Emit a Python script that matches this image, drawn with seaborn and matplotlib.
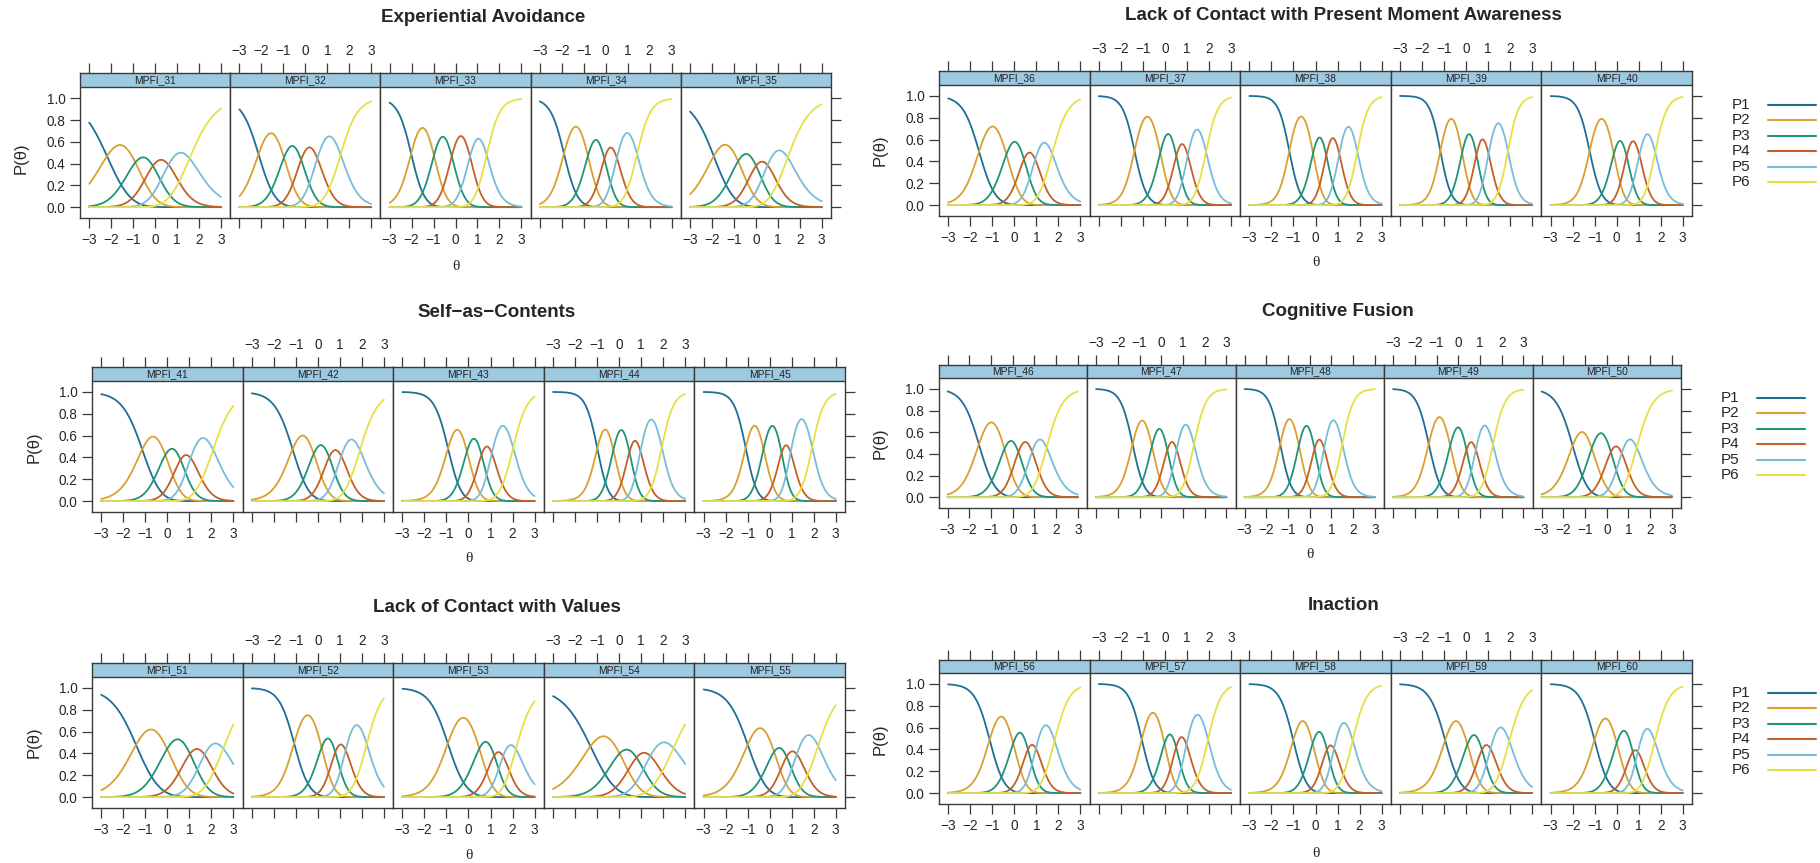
import numpy as np
import pandas as pd
import matplotlib
matplotlib.use("Agg")
import matplotlib.pyplot as plt
import seaborn as sns

# Generalized partial credit item parameters (slope a, step thresholds d1..d5)
item_ids = list(range(31, 61))
slopes = [1.59, 2.52, 3.25, 3.21, 1.85,
          2.66, 3.67, 3.99, 4.09, 3.69,
          2.09, 2.35, 3.13, 3.69, 3.70,
          2.57, 3.56, 3.83, 3.52, 2.55,
          1.71, 2.89, 2.36, 1.48, 2.12,
          2.91, 3.36, 3.12, 2.72, 2.92]
thresholds = [
    [-2.19, -0.90, -0.10, 0.61, 1.57],
    [-2.13, -0.97, -0.19, 0.55, 1.61],
    [-2.02, -0.98, -0.17, 0.66, 1.42],
    [-1.90, -0.81, -0.06, 0.51, 1.43],
    [-1.92, -0.81, 0.01, 0.53, 1.45],
    [-1.60, -0.36, 0.44, 0.95, 1.72],
    [-1.38, -0.21, 0.52, 1.04, 1.87],
    [-1.19, -0.11, 0.49, 1.08, 1.90],
    [-1.17, -0.18, 0.47, 1.02, 1.90],
    [-1.23, -0.13, 0.45, 1.03, 1.75],
    [-1.14, -0.09, 0.60, 1.06, 2.08],
    [-1.15, -0.19, 0.51, 1.06, 1.91],
    [-0.93, -0.07, 0.59, 1.06, 2.03],
    [-0.99, -0.26, 0.47, 0.97, 1.94],
    [-1.09, -0.28, 0.54, 0.95, 1.93],
    [-1.56, -0.38, 0.26, 0.89, 1.56],
    [-1.32, -0.43, 0.28, 0.71, 1.51],
    [-1.36, -0.50, 0.22, 0.66, 1.50],
    [-1.36, -0.37, 0.38, 0.81, 1.60],
    [-1.57, -0.69, 0.19, 0.69, 1.38],
    [-1.42, -0.01, 1.03, 1.69, 2.54],
    [-1.08, 0.17, 0.79, 1.26, 2.22],
    [-0.94, 0.49, 1.17, 1.57, 2.15],
    [-1.30, 0.02, 0.79, 1.42, 2.47],
    [-1.00, 0.20, 0.77, 1.23, 2.20],
    [-1.12, -0.05, 0.62, 0.98, 1.83],
    [-1.05, -0.02, 0.51, 0.98, 1.96],
    [-1.01, -0.13, 0.52, 0.84, 1.69],
    [-0.95, 0.06, 0.72, 1.11, 1.96],
    [-1.01, 0.00, 0.73, 0.96, 1.73],
]
scale_titles = ["Experiential Avoidance", "Self\u2212as\u2212Contents", "Lack of Contact with Values",
                "Lack of Contact with Present Moment Awareness", "Cognitive Fusion", "Inaction"]
scale_items = [[31, 32, 33, 34, 35], [41, 42, 43, 44, 45], [51, 52, 53, 54, 55],
               [36, 37, 38, 39, 40], [46, 47, 48, 49, 50], [56, 57, 58, 59, 60]]
categories = ["P1", "P2", "P3", "P4", "P5", "P6"]
x_ticks = [-3, -2, -1, 0, 1, 2, 3]
y_ticks = [0.0, 0.2, 0.4, 0.6, 0.8, 1.0]

params = {k: (a, np.array(d)) for k, a, d in zip(item_ids, slopes, thresholds)}


def gpcm_probs(theta, a, d):
    z = np.cumsum(a * (theta[:, None] - d[None, :]), axis=1)
    z = np.concatenate([np.zeros((len(theta), 1)), z], axis=1)
    z -= z.max(axis=1, keepdims=True)
    e = np.exp(z)
    return e / e.sum(axis=1, keepdims=True)


W, H = 1820, 863
sns.set_style("white")
plt.rcParams["font.family"] = ["Liberation Sans", "DejaVu Sans"]
fig = plt.figure(figsize=(W / 100, H / 100), dpi=100)

palette = {"P1": "#1f6f94", "P2": "#d9a030", "P3": "#1e9478",
           "P4": "#c55f28", "P5": "#78bcd8", "P6": "#e6df45"}
border = "#3a3a3a"
strip_col = "#9ecae1"


def ftext(x, y, s, **kw):
    fig.text(x / W, 1 - y / H, s, **kw)


# panel block geometry in pixels: x left, x right, strip top, strip bottom, panel bottom
blocks = [
    (80, 831, 73.5, 87.5, 218, 18, 267, (21, 158), None),
    (92, 845, 367, 381, 512, 312, 559, (34, 447), None),
    (92, 845, 663, 677, 808, 607, 855, (34, 742), None),
    (939, 1692, 71, 85, 216, 16, 263, (880, 150), (1732, 105)),
    (938.5, 1681, 365, 378, 508, 311, 555, (880, 443), (1721, 398)),
    (939, 1692, 660, 673, 804, 605, 853, (880, 739), (1732, 693)),
]

theta = np.linspace(-3, 3, 121)
for title, items, geo in zip(scale_titles, scale_items, blocks):
    xl, xr, st, sb, pb, ty, xy, ylab, leg = geo
    w = (xr - xl) / 5
    upp = 1.2 / (pb - sb)
    ytop = 1.1 + (sb - st) * upp
    for i, it in enumerate(items):
        ax = fig.add_axes([(xl + i * w) / W, 1 - pb / H, w / W, (pb - st) / H])
        a, d = params[it]
        P = gpcm_probs(theta, a, d)
        df = pd.DataFrame({"theta": np.tile(theta, 6), "P": P.T.ravel(),
                           "cat": np.repeat(categories, len(theta))})
        sns.lineplot(data=df, x="theta", y="P", hue="cat", palette=palette,
                     legend=False, ax=ax, linewidth=1.3)
        ax.set_xlim(-3.42, 3.42)
        ax.set_ylim(-0.1, ytop)
        ax.set_xlabel("")
        ax.set_ylabel("")
        ax.axhspan(1.1, ytop, facecolor=strip_col, edgecolor="none", zorder=0)
        ax.axhline(1.1, color=border, lw=1.0)
        ax.text(0, (1.1 + ytop) / 2, f"MPFI_{it}", ha="center", va="center",
                fontsize=7.4, color="#222222")
        for s in ax.spines.values():
            s.set_color(border)
            s.set_linewidth(1.0)
        ax.set_xticks(x_ticks)
        ax.set_xticklabels([str(t).replace("-", "\u2212") for t in x_ticks])
        ax.tick_params(axis="x", direction="out", length=7, width=0.9, color=border,
                       top=True, bottom=True, labeltop=(i % 2 == 1),
                       labelbottom=(i % 2 == 0), labelsize=9.8, pad=4)
        ax.set_yticks(y_ticks)
        ax.set_yticklabels([f"{t:.1f}" for t in y_ticks])
        ax.tick_params(axis="y", direction="out", length=7, width=0.9, color=border,
                       left=(i == 0), labelleft=(i == 0), right=(i == 4),
                       labelright=False, labelsize=9.8, pad=3.5)

    cx = (xl + xr) / 2
    ftext(cx + 28, ty, title, ha="center", va="center", fontsize=13.5, fontweight="bold")
    ftext(cx, xy, "\u03b8", ha="center", va="center", fontsize=11,
          family=["Liberation Serif", "DejaVu Serif"])
    ftext(ylab[0], ylab[1], "P(\u03b8)", ha="center", va="center", fontsize=12, rotation=90)

    if leg is not None:
        lx, ly = leg
        for j, c in enumerate(categories):
            yy = ly + j * 15.4
            ftext(lx, yy, c, ha="left", va="center", fontsize=11)
            fig.add_artist(plt.Line2D([(lx + 36) / W, (lx + 84) / W],
                                      [1 - yy / H, 1 - yy / H],
                                      color=palette[c], lw=1.5))

fig.savefig("out.png", dpi=100)
